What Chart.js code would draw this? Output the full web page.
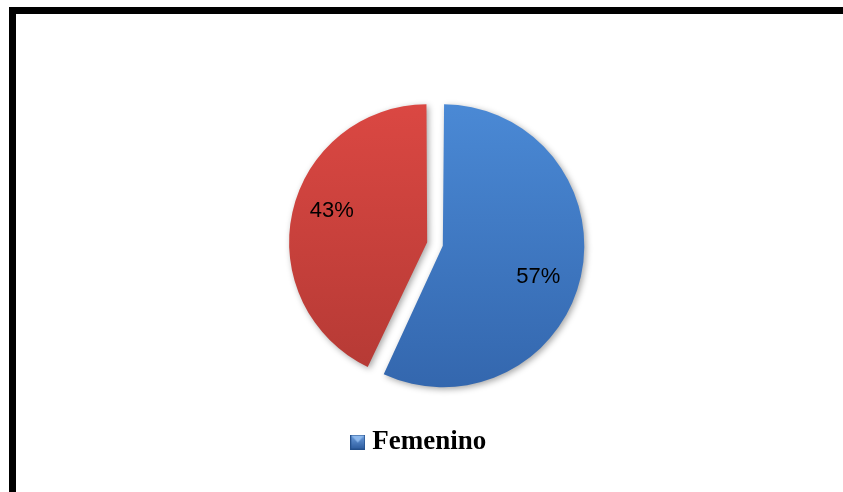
<!DOCTYPE html>
<html>
<head>
<meta charset="utf-8">
<script src="https://cdn.jsdelivr.net/npm/chart.js@4/dist/chart.umd.min.js"></script>
<style>
	html, body { margin: 0; padding: 0; background: #fff; overflow: hidden; }
	#wrap { position: relative; width: 843px; height: 492px; }
	#frame {
		position: absolute; left: 9px; top: 7px;
		width: 900px; height: 600px;
		border: 7px solid #000;
	}
	canvas { position: absolute; left: 0; top: 0; }
</style>
</head>
<body>
<div id="wrap">
	<canvas id="pieCanvas" width="843" height="492"></canvas>
	<div id="frame"></div>
</div>
<script>
// Sexo de los encuestados
var categories = ["Femenino", "Masculino"];
var shares = [57, 43];

// top / bottom shades of each slice
var sliceTop = ["#4b8ad6", "#dc4843"];
var sliceBottom = ["#3366ad", "#b33934"];

function sliceFill(context){
	var i = context.dataIndex;
	var area = context.chart.chartArea;
	if(!area){ return sliceTop[i]; }
	var g = context.chart.ctx.createLinearGradient(0, area.top, 0, area.bottom);
	g.addColorStop(0, sliceTop[i]);
	g.addColorStop(1, sliceBottom[i]);
	return g;
}

// small bevelled square used as the legend marker
function legendMarker(){
	var c = document.createElement("canvas");
	c.width = 15; c.height = 15;
	var g = c.getContext("2d");
	var grad = g.createLinearGradient(0, 0, 0, 15);
	grad.addColorStop(0, "#6fa0e0");
	grad.addColorStop(1, "#2b5a9c");
	g.fillStyle = grad;
	g.fillRect(0, 0, 15, 15);
	g.fillStyle = "#8db8ec";
	g.beginPath();
	g.moveTo(1, 1); g.lineTo(14, 1); g.lineTo(7.5, 8);
	g.closePath();
	g.fill();
	g.strokeStyle = "#24508c";
	g.strokeRect(0.5, 0.5, 14, 14);
	return c;
}
var marker = legendMarker();

// soft shadow under the slices
var sliceShadow = {
	id: "sliceShadow",
	beforeDatasetsDraw: function(chart){
		var ctx = chart.ctx;
		ctx.save();
		ctx.shadowColor = "rgba(0,0,0,0.35)";
		ctx.shadowBlur = 6;
		ctx.shadowOffsetX = 2;
		ctx.shadowOffsetY = 2;
	},
	afterDatasetsDraw: function(chart){
		chart.ctx.restore();
	}
};

// percentage written inside each slice
// (arc elements move and grow by offset / 4 when drawn)
var pctLabels = {
	id: "pctLabels",
	afterDatasetsDraw: function(chart){
		var ctx = chart.ctx;
		var meta = chart.getDatasetMeta(0);
		ctx.save();
		ctx.font = '22px "Liberation Sans"';
		ctx.fillStyle = "#000";
		ctx.textAlign = "center";
		ctx.textBaseline = "middle";
		$each(meta.data, function(i, arc){
			var mid = (arc.startAngle + arc.endAngle) / 2;
			var off = (arc.options.offset || 0) / 4;
			var a = mid + 0.1;
			var r = (arc.outerRadius + off) * 0.71;
			var x = arc.x + Math.cos(mid) * off + Math.cos(a) * r;
			var y = arc.y + Math.sin(mid) * off + Math.sin(a) * r;
			ctx.fillText(shares[i] + "%", x, y);
		});
		ctx.restore();
	}
};

function $each(list, fn){
	for(var i = 0; i < list.length; i++){ fn(i, list[i]); }
}

var ctx = document.getElementById("pieCanvas");
var pieChart = new Chart(ctx, {
	type: "pie",
	data: {
		labels: categories,
		datasets: [{
			data: shares,
			backgroundColor: sliceFill,
			borderWidth: 0,
			offset: 32
		}]
	},
	options: {
		responsive: false,
		animation: false,
		layout: { padding: { top: 94.5, bottom: 26.5, left: 0, right: 0 } },
		plugins: {
			tooltip: { enabled: false },
			// empty left title: keeps the pie a little right of the legend
			title: {
				display: true,
				position: "left",
				text: "",
				font: { size: 10 },
				padding: { top: 15, bottom: 0 }
			},
			legend: {
				position: "bottom",
				labels: {
					filter: function(item){ return item.index === 0; },
					usePointStyle: true,
					pointStyle: marker,
					pointStyleWidth: 2,
					padding: 35,
					color: "#000",
					font: { family: '"Liberation Serif"', size: 27, weight: "bold" }
				}
			}
		}
	},
	plugins: [sliceShadow, pctLabels]
});
</script>
</body>
</html>
